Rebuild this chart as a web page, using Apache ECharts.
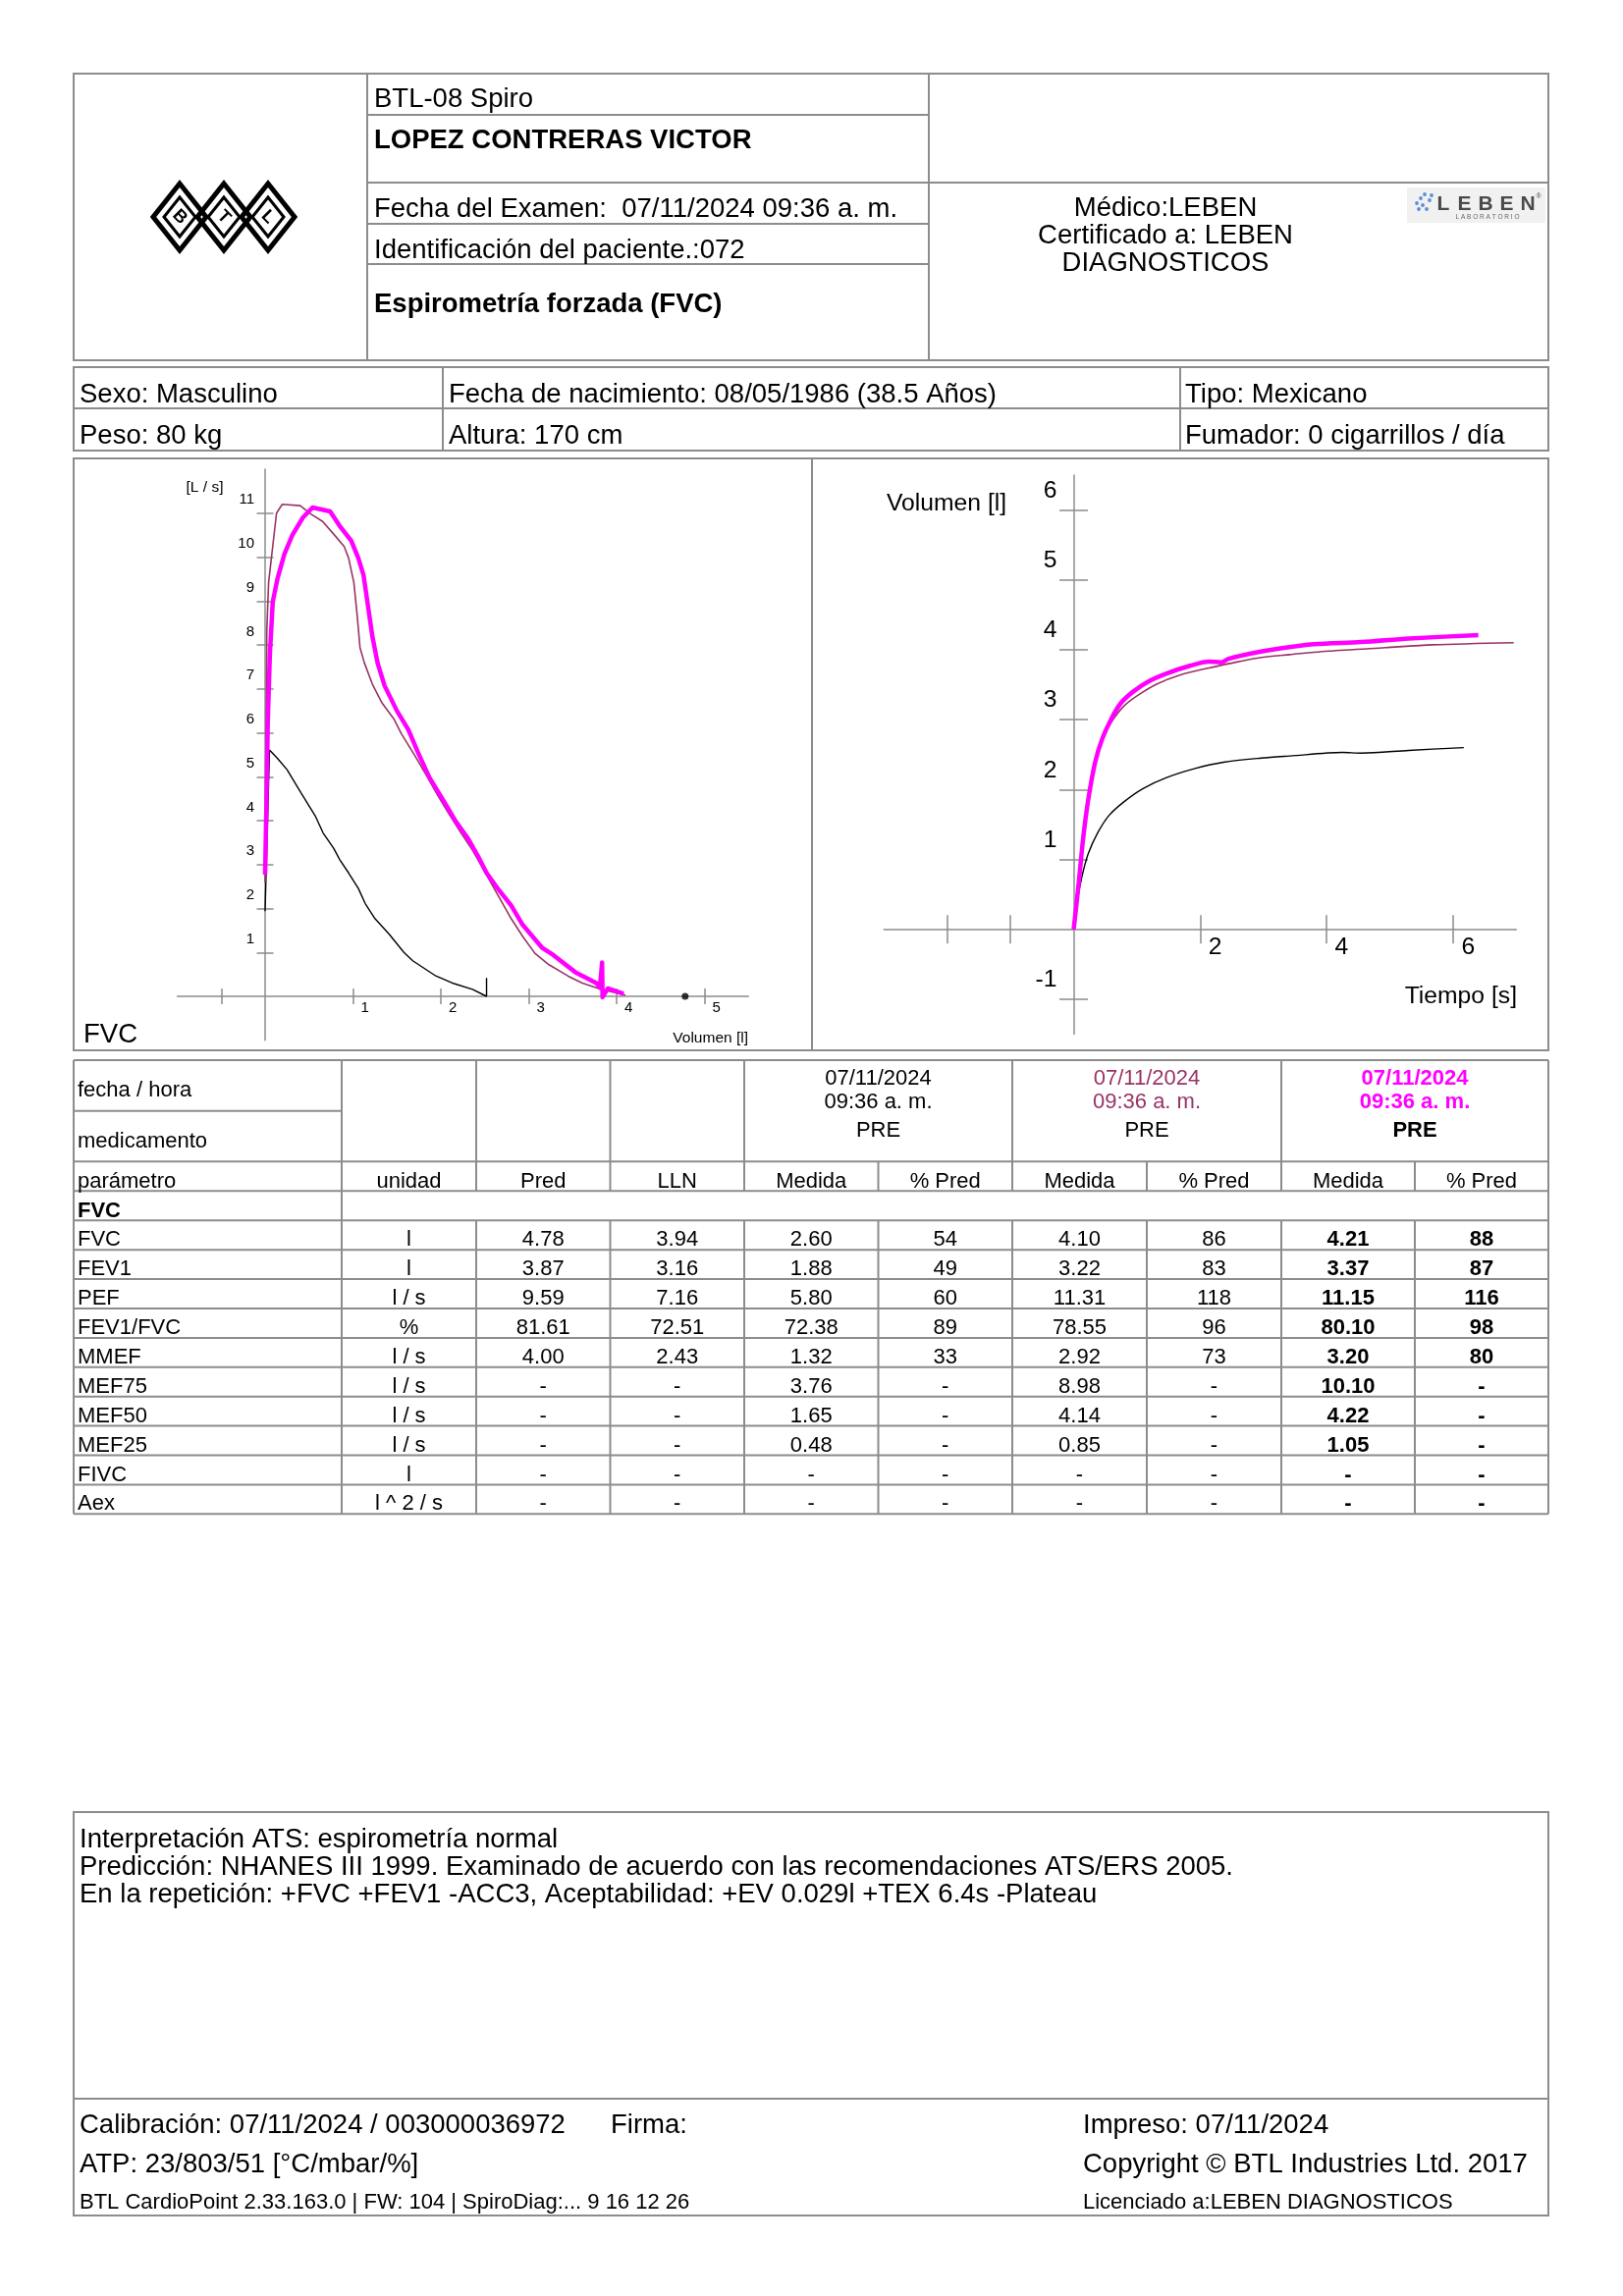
<!DOCTYPE html>
<html>
<head>
<meta charset="utf-8">
<script src="https://cdn.jsdelivr.net/npm/echarts@6/dist/echarts.min.js"></script>
<style>
html,body{margin:0;padding:0;background:#fff;}
#c{width:1653px;height:2339px;}
</style>
</head>
<body>
<div id="c"></div>
<script>
// ---------------- DATA ----------------
// Flow-volume loops: [volume (l), flow (l/s)]
const flowVolTrial1 = [[0,1.94],[0.05,5.61],[0.14,5.42],[0.25,5.16],[0.41,4.63],[0.57,4.11],[0.66,3.72],[0.78,3.37],[0.85,3.11],[0.95,2.81],[1.06,2.46],[1.14,2.11],[1.25,1.77],[1.41,1.42],[1.58,1.00],[1.68,0.81],[1.93,0.48],[2.15,0.29],[2.36,0.16],[2.52,0.0],[2.52,0.42]];
const flowVolTrial2 = [[0,2.6],[0.02,8.37],[0.04,9.42],[0.13,11.0],[0.195,11.2],[0.40,11.17],[0.52,10.98],[0.655,10.81],[0.79,10.5],[0.90,10.24],[0.95,9.98],[1.01,9.42],[1.05,8.63],[1.08,7.94],[1.13,7.59],[1.22,7.11],[1.33,6.68],[1.47,6.30],[1.55,5.98],[1.71,5.46],[1.85,4.98],[1.96,4.59],[2.09,4.16],[2.23,3.72],[2.36,3.33],[2.47,2.94],[2.58,2.55],[2.69,2.16],[2.80,1.77],[2.93,1.37],[3.07,0.98],[3.23,0.72],[3.45,0.46],[3.61,0.30],[3.82,0.16],[4.10,0.03]];
const flowVolTrial3 = [[0,2.77],[0.016,4.46],[0.03,6.2],[0.054,7.77],[0.087,8.98],[0.14,9.5],[0.22,10.07],[0.31,10.5],[0.43,10.9],[0.54,11.13],[0.74,11.04],[0.845,10.72],[0.98,10.37],[1.06,9.98],[1.12,9.59],[1.17,8.9],[1.22,8.2],[1.28,7.59],[1.36,7.07],[1.5,6.5],[1.63,6.07],[1.74,5.55],[1.87,4.98],[2.04,4.42],[2.17,3.98],[2.31,3.59],[2.42,3.2],[2.52,2.81],[2.66,2.42],[2.8,2.07],[2.93,1.63],[3.15,1.11],[3.28,0.94],[3.53,0.55],[3.77,0.3],[3.81,0.2],[3.835,0.77],[3.84,-0.02],[3.9,0.18],[4.08,0.06]];
const fvcPredicted = 4.78;

// Volume-time curves: [time (s), volume (l)]
const volTimeTrial1 = [[0,0],[0.05,0.37],[0.13,0.75],[0.23,1.08],[0.38,1.38],[0.56,1.63],[0.79,1.82],[1.09,2.01],[1.47,2.17],[1.92,2.3],[2.37,2.39],[2.97,2.45],[3.42,2.48],[4.25,2.53],[4.55,2.52],[5.3,2.56],[6.17,2.6]];
const volTimeTrial2 = [[0,0],[0.04,0.32],[0.09,0.75],[0.15,1.3],[0.23,1.85],[0.34,2.39],[0.45,2.72],[0.6,2.97],[0.79,3.19],[1.02,3.35],[1.32,3.51],[1.69,3.64],[2.14,3.74],[2.45,3.8],[2.9,3.88],[3.42,3.93],[4.03,3.98],[4.93,4.03],[5.68,4.07],[6.96,4.1]];
const volTimeTrial3 = [[0,0],[0.04,0.32],[0.09,0.75],[0.15,1.3],[0.23,1.85],[0.34,2.39],[0.45,2.72],[0.6,3.02],[0.75,3.24],[0.94,3.4],[1.17,3.54],[1.47,3.66],[1.84,3.77],[2.14,3.83],[2.33,3.82],[2.45,3.87],[2.82,3.95],[3.27,4.02],[3.8,4.08],[4.55,4.11],[5.3,4.16],[6.4,4.21]];

// Axis ticks / labels
const flowVolXTicks = [-0.5,1,2,3,4,5];
const flowVolXLabels = [1,2,3,4,5];
const flowVolYTicks = [1,2,3,4,5,6,7,8,9,10,11];
const volTimeXTicks = [-2,-1,2,4,6];
const volTimeXLabels = [2,4,6];
const volTimeYTicks = [-1,1,2,3,4,5,6];

// Results table
const tableParams = ['FVC','FEV1','PEF','FEV1/FVC','MMEF','MEF75','MEF50','MEF25','FIVC','Aex'];
const tableUnits = ['l','l','l / s','%','l / s','l / s','l / s','l / s','l','l ^ 2 / s'];
const tablePred = ['4.78','3.87','9.59','81.61','4.00','-','-','-','-','-'];
const tableLLN = ['3.94','3.16','7.16','72.51','2.43','-','-','-','-','-'];
const trial1Measured = ['2.60','1.88','5.80','72.38','1.32','3.76','1.65','0.48','-','-'];
const trial1Pct = ['54','49','60','89','33','-','-','-','-','-'];
const trial2Measured = ['4.10','3.22','11.31','78.55','2.92','8.98','4.14','0.85','-','-'];
const trial2Pct = ['86','83','118','96','73','-','-','-','-','-'];
const trial3Measured = ['4.21','3.37','11.15','80.10','3.20','10.10','4.22','1.05','-','-'];
const trial3Pct = ['88','87','116','98','80','-','-','-','-','-'];
const trialDate = '07/11/2024';
const trialTime = '09:36 a. m.';

// ---------------- STYLE ----------------
const FONT = '"Liberation Sans", Arial, Helvetica, sans-serif';
const LINE = '#8c8c8c';
const MAROON = '#993366';
const MAGENTA = '#ff00ff';
const AX = {color: '#8c8c8c', width: 1.5};
const AX_HIDDEN = {color: 'rgba(0,0,0,0)', width: 0};

const G = [];
function ln(x1, y1, x2, y2, w, c) {
  G.push({type: 'line', silent: true, shape: {x1, y1, x2, y2}, style: {stroke: c || LINE, lineWidth: w || 2}});
}
function box(x, y, w, h) {
  G.push({type: 'rect', silent: true, shape: {x, y, width: w, height: h}, style: {fill: 'none', stroke: LINE, lineWidth: 2}});
}
function tx(x, y, s, o) {
  o = o || {};
  G.push({type: 'text', silent: true, x, y, rotation: o.rot || 0, z: 10, style: {
    text: s, fill: o.color || '#000', fontSize: o.size || 27.5, fontWeight: o.bold ? 'bold' : 'normal',
    fontFamily: FONT, align: o.align || 'left', verticalAlign: 'middle'}});
}

// ---------------- HEADER ----------------
box(75, 75, 1502, 292);
ln(374, 75, 374, 367); ln(946, 75, 946, 367);
ln(374, 117, 946, 117); ln(374, 186, 1577, 186); ln(374, 228, 946, 228); ln(374, 269, 946, 269);
tx(381, 101.5, 'BTL-08 Spiro');
tx(381, 143.5, 'LOPEZ CONTRERAS VICTOR', {bold: true});
tx(381, 213.5, 'Fecha del Examen:  07/11/2024 09:36 a. m.');
tx(381, 255.5, 'Identificación del paciente.:072');
tx(381, 310.5, 'Espirometría forzada (FVC)', {bold: true});
tx(1187, 212.5, 'Médico:LEBEN', {align: 'center'});
tx(1187, 240.5, 'Certificado a: LEBEN', {align: 'center'});
tx(1187, 268.5, 'DIAGNOSTICOS', {align: 'center'});

// BTL logo
[183, 228, 273].forEach(function (cx, i) {
  const cy = 221, hw = 27, hh = 34;
  G.push({type: 'polygon', silent: true, shape: {points: [[cx, cy - hh], [cx + hw, cy], [cx, cy + hh], [cx - hw, cy]]},
    style: {fill: 'none', stroke: '#000', lineWidth: 5, lineJoin: 'miter'}});
  G.push({type: 'polygon', silent: true, shape: {points: [[cx, cy - 20], [cx + 16, cy], [cx, cy + 20], [cx - 16, cy]]},
    style: {fill: 'none', stroke: '#000', lineWidth: 3, lineJoin: 'miter'}});
  tx(cx, cy, ['B', 'T', 'L'][i], {bold: true, size: 18, align: 'center', rot: -Math.PI / 4});
});

// LEBEN logo
G.push({type: 'rect', silent: true, shape: {x: 1433, y: 191, width: 141, height: 36}, style: {fill: '#f1f1f1'}});
[[1443, 207], [1447, 202], [1451, 198], [1449, 209], [1453, 213], [1456, 204], [1458, 199], [1445, 213]].forEach(function (p) {
  G.push({type: 'circle', silent: true, shape: {cx: p[0], cy: p[1], r: 1.9}, style: {fill: '#5b8fd6'}});
});
['L', 'E', 'B', 'E', 'N'].forEach(function (ch, i) {
  tx(1470 + i * 21.5, 208, ch, {bold: true, size: 21, align: 'center', color: '#4a4a4a'});
});
tx(1567, 200, '®', {size: 7, align: 'center', color: '#4a4a4a'});
tx(1515, 221.5, 'L A B O R A T O R I O', {size: 6.5, align: 'center', color: '#666'});

// ---------------- PATIENT INFO ----------------
box(75, 374, 1502, 85);
ln(75, 416, 1577, 416); ln(451, 374, 451, 459); ln(1202, 374, 1202, 459);
tx(81, 402, 'Sexo: Masculino');
tx(457, 402, 'Fecha de nacimiento: 08/05/1986 (38.5 Años)');
tx(1207, 402, 'Tipo: Mexicano');
tx(81, 444, 'Peso: 80 kg');
tx(457, 444, 'Altura: 170 cm');
tx(1207, 444, 'Fumador: 0 cigarrillos / día');

// ---------------- CHART FRAMES ----------------
box(75, 467, 1502, 603);
ln(827, 467, 827, 1070);
tx(208.5, 497, '[L / s]', {size: 15.5, align: 'center'});
tx(762, 1058, 'Volumen [l]', {size: 15.5, align: 'right'});
tx(85, 1054, 'FVC');
tx(903, 513, 'Volumen [l]', {size: 24.7});
tx(1545, 1015, 'Tiempo [s]', {size: 24.7, align: 'right'});

// ---------------- RESULTS TABLE ----------------
const colX = [75, 348, 485, 621.5, 758, 894.5, 1031, 1168, 1305, 1441, 1577];
const tTop = 1080, tMid = 1131.7, tHdr = 1183.3, tPar = 1213.3, tSec = 1243.3, rowH = 29.9;
const tBot = tSec + rowH * tableParams.length;
ln(75, tTop, 1577, tTop); ln(75, tMid, 348, tMid); ln(75, tHdr, 1577, tHdr); ln(75, tPar, 1577, tPar);
for (let i = 0; i <= tableParams.length; i++) ln(75, tSec + i * rowH, 1577, tSec + i * rowH);
ln(75, tTop, 75, tBot); ln(1577, tTop, 1577, tBot); ln(348, tTop, 348, tBot);
[485, 621.5, 758, 1031, 1305].forEach(function (x) { ln(x, tTop, x, tPar); ln(x, tSec, x, tBot); });
[894.5, 1168, 1441].forEach(function (x) { ln(x, tHdr, x, tPar); ln(x, tSec, x, tBot); });
const TS = 22;
tx(79, 1111, 'fecha / hora', {size: TS});
tx(79, 1163, 'medicamento', {size: TS});
const grpC = [894.5, 1168, 1441];
const grpColor = ['#000', MAROON, MAGENTA];
grpC.forEach(function (cx, g) {
  tx(cx, 1099, trialDate, {size: TS, align: 'center', color: grpColor[g], bold: g === 2});
  tx(cx, 1122.5, trialTime, {size: TS, align: 'center', color: grpColor[g], bold: g === 2});
  tx(cx, 1151.5, 'PRE', {size: TS, align: 'center', bold: g === 2});
});
const colC = colX.slice(0, -1).map(function (x, i) { return (x + colX[i + 1]) / 2; });
const hdrs = ['unidad', 'Pred', 'LLN', 'Medida', '% Pred', 'Medida', '% Pred', 'Medida', '% Pred'];
tx(79, 1203.5, 'parámetro', {size: TS});
hdrs.forEach(function (h, i) { tx(colC[i + 1], 1203.5, h, {size: TS, align: 'center'}); });
tx(79, 1233.5, 'FVC', {size: TS, bold: true});
const cols = [tableUnits, tablePred, tableLLN, trial1Measured, trial1Pct, trial2Measured, trial2Pct, trial3Measured, trial3Pct];
tableParams.forEach(function (p, r) {
  const yc = tSec + r * rowH + rowH / 2 + 5;
  tx(79, yc, p, {size: TS});
  cols.forEach(function (arr, c) { tx(colC[c + 1], yc, arr[r], {size: TS, align: 'center', bold: c >= 7}); });
});

// ---------------- BOTTOM BOX ----------------
box(75, 1846, 1502, 411);
ln(75, 2138, 1577, 2138);
tx(81, 1874.5, 'Interpretación ATS: espirometría normal');
tx(81, 1902.5, 'Predicción: NHANES III 1999. Examinado de acuerdo con las recomendaciones ATS/ERS 2005.');
tx(81, 1930, 'En la repetición: +FVC +FEV1 -ACC3, Aceptabilidad: +EV 0.029l +TEX 6.4s -Plateau');
tx(81, 2165.5, 'Calibración: 07/11/2024 / 003000036972');
tx(622, 2165.5, 'Firma:');
tx(1103, 2165.5, 'Impreso: 07/11/2024');
tx(81, 2205.5, 'ATP: 23/803/51 [°C/mbar/%]');
tx(1103, 2205.5, 'Copyright © BTL Industries Ltd. 2017');
tx(81, 2244, 'BTL CardioPoint 2.33.163.0 | FW: 104 | SpiroDiag:... 9 16 12 26', {size: 22});
tx(1103, 2244, 'Licenciado a:LEBEN DIAGNOSTICOS', {size: 22});

// ---------------- CHART ----------------
function xAx(grid, min, max, pos, ticks, labels, tickLen, lab) {
  return {
    gridIndex: grid, type: 'value', min: min, max: max, position: pos,
    axisLine: {show: true, onZero: true, lineStyle: labels ? AX : AX_HIDDEN},
    axisTick: {show: true, customValues: ticks, length: tickLen, lineStyle: AX},
    axisLabel: labels ? Object.assign({show: true, customValues: labels, color: '#000', fontFamily: FONT, align: 'left'}, lab) : {show: false},
    splitLine: {show: false}
  };
}
function yAx(grid, min, max, pos, ticks, labels, tickLen, lab) {
  return {
    gridIndex: grid, type: 'value', min: min, max: max, position: pos,
    axisLine: {show: true, onZero: true, lineStyle: labels ? AX : AX_HIDDEN},
    axisTick: {show: true, customValues: ticks, length: tickLen, lineStyle: AX},
    axisLabel: labels ? Object.assign({show: true, customValues: labels, color: '#000', fontFamily: FONT, align: 'right', verticalAlign: 'bottom'}, lab) : {show: false},
    splitLine: {show: false}
  };
}
const lineBase = {type: 'line', showSymbol: false, symbol: 'none', animation: false, silent: true};

// grid geometry (pixel placement of the two plot areas)
const gFV = {left: 180.5, top: 478, width: 581.75, height: 581.75};
const gVT = {left: 900.3, top: 483.9, width: 644, height: 569.6};
// distance from grid edge to the zero line (labels are anchored at the grid edge)
const fvZeroX = gFV.width * (0 - (-1)) / 6.5;
const fvZeroY = gFV.height * (0 - (-1)) / 13;
const vtZeroX = gVT.width * (0 - (-3)) / 10;
const vtZeroY = gVT.height * (0 - (-1.5)) / 8;

const option = {
  animation: false,
  backgroundColor: '#fff',
  grid: [
    Object.assign({containLabel: false, outerBoundsMode: 'none'}, gFV),
    Object.assign({containLabel: false, outerBoundsMode: 'none'}, gVT)
  ],
  xAxis: [
    xAx(0, -1, 5.5, 'bottom', flowVolXTicks, flowVolXLabels, 8, {fontSize: 15, margin: 4 - fvZeroY, padding: [0, 0, 0, 8]}),
    xAx(0, -1, 5.5, 'top', flowVolXTicks, null, 8),
    xAx(1, -3, 7, 'bottom', volTimeXTicks, volTimeXLabels, 14.5, {fontSize: 24.7, margin: 6 - vtZeroY, padding: [0, 0, 0, 8.5]}),
    xAx(1, -3, 7, 'top', volTimeXTicks, null, 14.5)
  ],
  yAxis: [
    yAx(0, -1, 12, 'left', flowVolYTicks, flowVolYTicks, 8.5, {fontSize: 15, margin: 11 - fvZeroX, padding: [0, 0, 6, 0]}),
    yAx(0, -1, 12, 'right', flowVolYTicks, null, 8.5),
    yAx(1, -1.5, 6.5, 'left', volTimeYTicks, volTimeYTicks, 14.5, {fontSize: 24.7, margin: 17 - vtZeroX, padding: [0, 0, 7, 0]}),
    yAx(1, -1.5, 6.5, 'right', volTimeYTicks, null, 14.5)
  ],
  series: [
    Object.assign({}, lineBase, {name: 'Trial 1', xAxisIndex: 0, yAxisIndex: 0, data: flowVolTrial1, lineStyle: {color: '#000', width: 1.4}, z: 3}),
    Object.assign({}, lineBase, {name: 'Trial 2', xAxisIndex: 0, yAxisIndex: 0, data: flowVolTrial2, lineStyle: {color: MAROON, width: 1.6}, z: 4}),
    Object.assign({}, lineBase, {name: 'Trial 3', xAxisIndex: 0, yAxisIndex: 0, data: flowVolTrial3, lineStyle: {color: MAGENTA, width: 4.5, join: 'round'}, z: 5}),
    {type: 'scatter', xAxisIndex: 0, yAxisIndex: 0, data: [[fvcPredicted, 0]], symbolSize: 7, itemStyle: {color: '#000'}, silent: true, z: 6},
    Object.assign({}, lineBase, {name: 'Trial 1', xAxisIndex: 2, yAxisIndex: 2, data: volTimeTrial1, smooth: 0.3, lineStyle: {color: '#000', width: 1.4}, z: 3}),
    Object.assign({}, lineBase, {name: 'Trial 2', xAxisIndex: 2, yAxisIndex: 2, data: volTimeTrial2, smooth: 0.3, lineStyle: {color: MAROON, width: 1.6}, z: 4}),
    Object.assign({}, lineBase, {name: 'Trial 3', xAxisIndex: 2, yAxisIndex: 2, data: volTimeTrial3, smooth: 0.3, lineStyle: {color: MAGENTA, width: 4.5}, z: 5})
  ],
  graphic: {elements: G}
};

const chart = echarts.init(document.getElementById('c'), null, {renderer: 'canvas', width: 1653, height: 2339});
chart.setOption(option);
</script>
</body>
</html>
